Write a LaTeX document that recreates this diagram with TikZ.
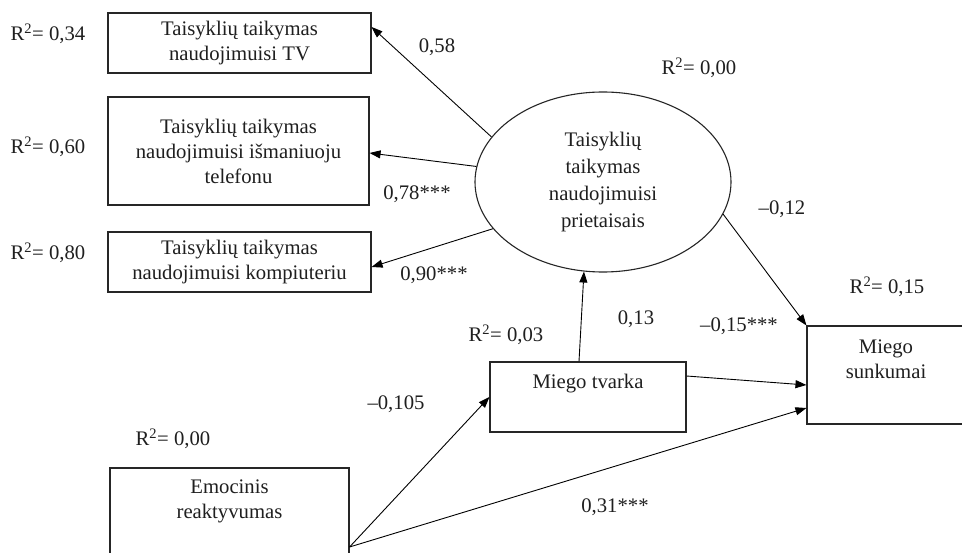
\documentclass[tikz,border=0pt]{standalone}
\usepackage{fontspec}
\setmainfont{Liberation Serif}
\usetikzlibrary{arrows.meta,calc,shapes.geometric}
\begin{document}
\begin{tikzpicture}[x=1pt,y=-1pt,
  every node/.style={font=\fontsize{20.7}{25}\selectfont, text=black!88},
  box/.style={draw=black!85, line width=1.1pt, rectangle, inner sep=0pt, align=center},
  ell/.style={draw=black!85, line width=1.1pt, ellipse, inner sep=0pt, align=center},
  lbl/.style={inner sep=0pt},
  arr/.style={draw=black, line width=0.9pt, -{Triangle[length=11pt,width=8pt]}}
]
\useasboundingbox (0,0) rectangle (962,553);
\fill[white] (0,0) rectangle (962,553);
% boxes
\node[box, minimum width=263pt, minimum height=60pt] (tv) at (239.5,43) {Taisyklių taikymas\\naudojimuisi TV};
\node[box, minimum width=261pt, minimum height=108pt] (ph) at (238.5,151) {Taisyklių taikymas\\naudojimuisi išmaniuoju\\telefonu};
\node[box, minimum width=263pt, minimum height=60pt] (cp) at (239.5,262) {Taisyklių taikymas\\naudojimuisi kompiuteriu};
\node[ell, minimum width=256pt, minimum height=180pt, font=\fontsize{20.7}{27}\selectfont] (el) at (603,182) {Taisyklių\\taikymas\\naudojimuisi\\prietaisais};
\node[box, minimum width=196pt, minimum height=70pt] (mt) at (588,397) {};
\node[lbl] (mtt) at (588,384) {Miego tvarka};
\node[box, minimum width=160pt, minimum height=98pt] (sk) at (887,375) {};
\node[lbl, align=center] (skt) at (886,359) {Miego\\sunkumai};
\node[box, minimum width=239pt, minimum height=158pt] (em) at (229.5,547) {};
\node[lbl, align=center] (emt) at (229.5,501) {Emocinis\\reaktyvumas};
% R2 labels
\node[lbl] (r1) at (48,34) {R\textsuperscript{2}= 0,34};
\node[lbl] (r2) at (48,147) {R\textsuperscript{2}= 0,60};
\node[lbl] (r3) at (48,253) {R\textsuperscript{2}= 0,80};
\node[lbl] (r4) at (699,68) {R\textsuperscript{2}= 0,00};
\node[lbl] (r5) at (887,287) {R\textsuperscript{2}= 0,15};
\node[lbl] (r6) at (506,335) {R\textsuperscript{2}= 0,03};
\node[lbl] (r7) at (173,439) {R\textsuperscript{2}= 0,00};
% coefficients
\node[lbl] (c1) at (437,47) {0,58};
\node[lbl] (c2) at (417,194) {0,78***};
\node[lbl] (c3) at (434,275) {0,90***};
\node[lbl] (c4) at (782,209) {–0,12};
\node[lbl] (c5) at (636,319) {0,13};
\node[lbl] (c6) at (739,326) {–0,15***};
\node[lbl] (c7) at (396,404) {–0,105};
\node[lbl] (c8) at (615,507) {0,31***};
% arrows
\draw[arr] (el.158.7) -- ([yshift=16pt]tv.east);
\draw[arr] (el.173.8) -- ([yshift=-2pt]ph.east);
\draw[arr] (el.203.9) -- ([yshift=-5pt]cp.east);
\draw[arr] (el.345.5) -- (sk.north west);
\draw[arr] ([xshift=-9pt]mt.north) -- (el.258.7);
\draw[arr] ([yshift=21pt]mt.east) -- ([yshift=-10pt]sk.west);
\draw[arr] (em.east) -- (mt.west);
\draw[arr] (em.east) -- ([yshift=-33pt]sk.west);
\end{tikzpicture}
\end{document}
